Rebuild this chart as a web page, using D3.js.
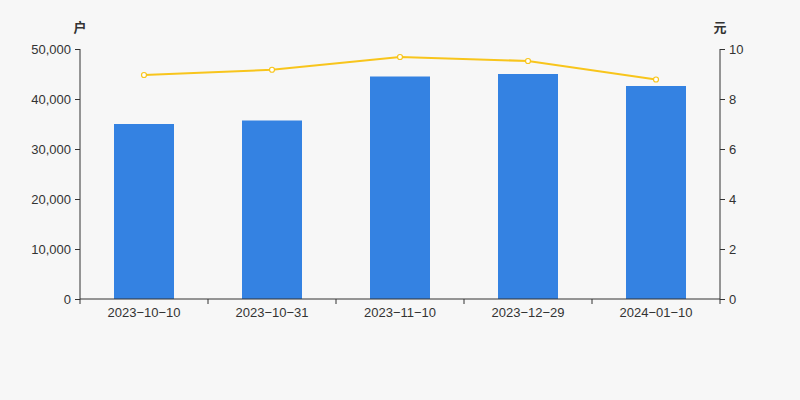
<!DOCTYPE html>
<html><head><meta charset="utf-8">
<script src="https://cdn.jsdelivr.net/npm/d3@7"></script>
<style>body{margin:0;background:#f7f7f7}svg{display:block;font-family:Arial,"Liberation Sans","Noto Sans CJK SC",sans-serif}</style>
</head><body><svg id="c" width="800" height="400"></svg>
<script>
const categories = ["2023-10-10","2023-10-31","2023-11-10","2023-12-29","2024-01-10"];
const holders = [35000, 35700, 44500, 45000, 42600];
const price = [8.96, 9.17, 9.68, 9.52, 8.78];
const leftTicks = [0,10000,20000,30000,40000,50000];
const rightTicks = [0,2,4,6,8,10];
const leftUnit = "户", rightUnit = "元";

const svg = d3.select("#c");
svg.append("rect").attr("width",800).attr("height",400).attr("fill","#f7f7f7");
const m = {l:80, r:720, t:49, b:299};
const x = d3.scaleBand().domain(categories).range([m.l,m.r]);
const yL = d3.scaleLinear().domain([0,50000]).range([m.b,m.t]);
const yR = d3.scaleLinear().domain([0,10]).range([m.b,m.t]);
const fmt = d3.format(",");

svg.selectAll(".bar").data(holders).join("rect")
  .attr("x",(d,i)=>x(categories[i])+x.bandwidth()/2-30)
  .attr("width",60)
  .attr("y",d=>yL(d)).attr("height",d=>m.b-yL(d))
  .attr("fill","#3482e2");

const line = d3.line().x((d,i)=>x(categories[i])+x.bandwidth()/2).y(d=>yR(d));
svg.append("path").datum(price).attr("d",line).attr("fill","none")
  .attr("stroke","#f8c51c").attr("stroke-width",2);
svg.selectAll(".pt").data(price).join("circle")
  .attr("cx",(d,i)=>x(categories[i])+x.bandwidth()/2).attr("cy",d=>yR(d))
  .attr("r",2.5).attr("fill","#fff").attr("stroke","#f8c51c").attr("stroke-width",1.2);

const la = svg.append("g").attr("transform",`translate(${m.l},0)`)
  .call(d3.axisLeft(yL).tickValues(leftTicks).tickFormat(fmt).tickSize(5).tickPadding(4));
const ra = svg.append("g").attr("transform",`translate(${m.r},0)`)
  .call(d3.axisRight(yR).tickValues(rightTicks).tickSize(5).tickPadding(4));
const xa = svg.append("g").attr("transform",`translate(0,${m.b})`)
  .call(d3.axisBottom(x).tickSize(0).tickPadding(9));
xa.selectAll(".tick text").text(d=>d.replace(/-/g,"\u2212"));
xa.selectAll(".bt").data(d3.range(categories.length+1)).join("line")
  .attr("x1",i=>m.l+i*x.step()).attr("x2",i=>m.l+i*x.step())
  .attr("y1",0).attr("y2",5).attr("stroke","#333");
[la,ra,xa].forEach(g=>{
  g.selectAll("path.domain").attr("stroke","#333");
  g.selectAll(".tick line").attr("stroke","#333");
  g.selectAll("text").attr("fill","#333").attr("font-size",13).attr("font-family","Arial,'Liberation Sans',sans-serif");
});
la.select("path.domain").attr("d",`M0,${m.b}V${m.t}`);
ra.select("path.domain").attr("d",`M0,${m.b}V${m.t}`);
xa.select("path.domain").attr("d",`M${m.l},0H${m.r}`);

svg.append("text").attr("x",80).attr("y",32).attr("text-anchor","middle")
  .attr("font-size",13).attr("font-weight","bold").attr("fill","#333").attr("font-family","'Noto Sans CJK SC',sans-serif").text(leftUnit);
svg.append("text").attr("x",720).attr("y",32).attr("text-anchor","middle")
  .attr("font-size",13).attr("font-weight","bold").attr("fill","#333").attr("font-family","'Noto Sans CJK SC',sans-serif").text(rightUnit);
</script></body></html>
